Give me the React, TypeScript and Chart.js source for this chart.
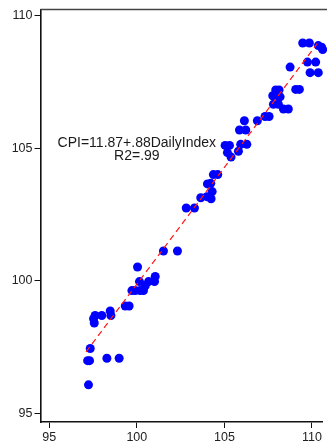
import { useEffect, useRef } from "react";
import { Chart, registerables } from "chart.js";

Chart.register(...registerables);

// Daily price index (x) against the official CPI (y)
const dailyIndex = [
  97.24, 97.19, 97.3, 98.29, 98.99, 97.34, 97.53, 97.57, 97.62, 98.0,
  98.48, 98.52, 99.34, 99.56, 99.72, 99.91, 100.04, 100.15, 100.19, 100.38,
  100.48, 100.67, 101.01, 101.05, 101.52, 102.32, 102.82, 103.29, 103.65, 104.0,
  104.24, 104.3, 104.03, 104.22, 104.37, 104.62, 105.04, 105.29, 105.17, 105.38,
  105.8, 105.93, 106.28, 105.86, 106.22, 106.14, 106.88, 107.32, 107.55, 107.8,
  108.08, 108.37, 108.65, 107.76, 108.02, 108.18, 107.93, 108.12, 109.07, 109.28,
  108.75, 109.89, 110.36, 109.74, 110.21, 109.47, 109.85, 110.36, 110.61, 110.55,
];
const cpi = [
  96.08, 96.99, 96.99, 97.08, 97.08, 97.45, 98.57, 98.41, 98.69, 98.69,
  98.86, 98.69, 99.05, 99.05, 99.63, 99.63, 100.52, 99.97, 99.63, 99.63,
  99.81, 99.97, 99.97, 100.16, 101.12, 101.12, 102.74, 102.74, 103.13, 103.17,
  103.09, 103.36, 103.65, 103.67, 104.0, 104.0, 105.1, 105.1, 104.83, 104.66,
  104.88, 105.14, 105.14, 105.68, 105.68, 106.03, 106.03, 106.19, 106.19, 106.65,
  106.65, 106.47, 106.47, 106.97, 106.97, 106.93, 107.19, 107.19, 107.21, 107.21,
  108.05, 107.84, 107.84, 108.24, 108.24, 108.96, 108.96, 108.86, 108.71, 108.8,
];

const xTicks = [95, 100, 105, 110];
const yTicks = [95, 100, 105, 110];

// Fitted line CPI = 11.87 + .88 * DailyIndex over the observed range
const intercept = 11.87;
const slope = 0.88;
const fitRange = [97.1, 110.3];

const equationLines = ["CPI=11.87+.88DailyIndex", "R2=.99"];
const equationAnchor = { x: 100, y: 105.2 };

const FONT = "'Liberation Sans', Arial, Helvetica, sans-serif";

const frameAndText = {
  id: "frameAndText",
  afterDatasetsDraw(chart: any) {
    const { ctx, chartArea, scales } = chart;
    ctx.save();
    // top frame line
    ctx.strokeStyle = "#444";
    ctx.lineWidth = 1.6;
    ctx.beginPath();
    ctx.moveTo(chartArea.left, chartArea.top);
    ctx.lineTo(chartArea.right + 10, chartArea.top);
    ctx.stroke();
    // regression equation
    ctx.fillStyle = "#1a1a1a";
    ctx.font = `14px ${FONT}`;
    ctx.textAlign = "center";
    ctx.textBaseline = "middle";
    const px = scales.x.getPixelForValue(equationAnchor.x);
    const py = scales.y.getPixelForValue(equationAnchor.y);
    equationLines.forEach((t, i) => ctx.fillText(t, px, py + i * 13.5));
    ctx.restore();
  },
};

export default function App() {
  const ref = useRef<HTMLCanvasElement | null>(null);

  useEffect(() => {
    if (!ref.current) return;
    const points = dailyIndex.map((x, i) => ({ x, y: cpi[i] }));
    const fit = fitRange.map((x) => ({ x, y: intercept + slope * x }));
    const axisCommon = {
      type: "linear" as const,
      grid: {
        drawOnChartArea: false,
        drawTicks: true,
        tickLength: 6,
        tickColor: "#111",
        lineWidth: 1,
      },
      border: { display: true, color: "#111", width: 1.6 },
    };
    const chart = new Chart(ref.current, {
      type: "scatter",
      data: {
        datasets: [
          {
            data: fit,
            showLine: true,
            borderColor: "#ff1a1a",
            borderWidth: 1.2,
            borderDash: [6, 4],
            pointRadius: 0,
            clip: false,
          },
          {
            data: points,
            pointRadius: 4.5,
            pointBackgroundColor: "#0000ff",
            pointBorderWidth: 0,
            borderWidth: 0,
            clip: false,
          },
        ],
      },
      options: {
        animation: false,
        responsive: false,
        layout: { padding: { top: 6, right: 0, left: 0, bottom: 0 } },
        plugins: { legend: { display: false }, tooltip: { enabled: false } },
        scales: {
          x: {
            ...axisCommon,
            min: 94.5,
            max: 110.6,
            afterBuildTicks: (s: any) => {
              s.ticks = xTicks.map((value) => ({ value }));
            },
            afterFit: (s: any) => {
              s.height = 21;
            },
            ticks: {
              color: "#222",
              padding: 2,
              font: { size: 12.5, family: FONT },
              maxRotation: 0,
            },
          },
          y: {
            ...axisCommon,
            min: 94.68,
            max: 110.22,
            afterBuildTicks: (s: any) => {
              s.ticks = yTicks.map((value) => ({ value }));
            },
            afterFit: (s: any) => {
              s.width = 40.5;
            },
            ticks: {
              color: "#222",
              padding: 2,
              font: { size: 12.5, family: FONT },
            },
          },
        },
      },
      plugins: [frameAndText],
    });
    return () => chart.destroy();
  }, []);

  return (
    <div style={{ position: "absolute", left: 0, top: 0, width: 327, height: 443, background: "#fff" }}>
      <canvas ref={ref} width={327} height={443} />
    </div>
  );
}
